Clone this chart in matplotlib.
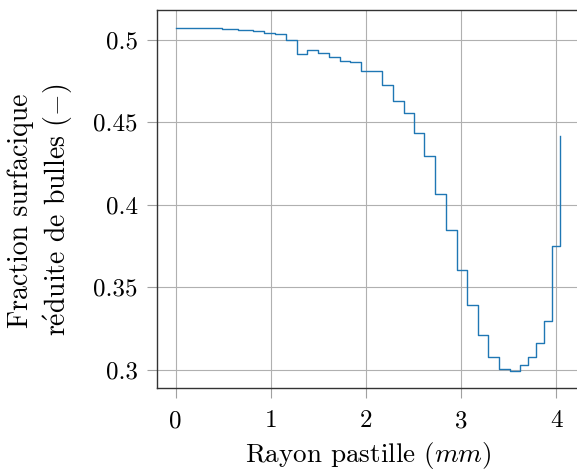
import numpy as np
import matplotlib
matplotlib.use('Agg')
import matplotlib.pyplot as plt

# step edges (mm) and levels (last value only closes the final step)
rayon = [0.0, 0.168, 0.335, 0.491, 0.659, 0.817, 0.933, 1.045, 1.158, 1.272,
         1.385, 1.495, 1.613, 1.722, 1.835, 1.945, 2.056, 2.172, 2.284, 2.396,
         2.505, 2.614, 2.726, 2.840, 2.954, 3.063, 3.175, 3.284, 3.400, 3.512,
         3.621, 3.701, 3.789, 3.869, 3.954, 4.045]
fraction = [0.5073, 0.5072, 0.5069, 0.5064, 0.5056, 0.5052, 0.5042, 0.5035, 0.5000, 0.4914,
            0.4939, 0.4921, 0.4896, 0.4868, 0.4866, 0.4812, 0.4808, 0.4725, 0.4626, 0.4555,
            0.4437, 0.4298, 0.4066, 0.3847, 0.3606, 0.3394, 0.3214, 0.3081, 0.3004, 0.2995,
            0.3028, 0.3080, 0.3161, 0.3297, 0.3748, 0.4419]

xticks = [0, 1, 2, 3, 4]
xticklabels = ['0', '1', '2', '3', '4']
yticks = [0.3, 0.35, 0.4, 0.45, 0.5]
yticklabels = ['0.3', '0.35', '0.4', '0.45', '0.5']

plt.rcParams['font.family'] = 'serif'
plt.rcParams['font.serif'] = ['cmr10']
plt.rcParams['mathtext.fontset'] = 'cm'
plt.rcParams['axes.unicode_minus'] = False

fig = plt.figure(figsize=(5.77, 4.73), dpi=100)
ax = fig.add_axes([0.2726, 0.1803, 0.7308, 0.7979])

ax.step(rayon, fraction, where='post', color='#1f77b4', lw=1.0)

ax.set_xlim(-0.194, 4.24)
ax.set_ylim(0.2892, 0.5178)
ax.set_xticks(xticks)
ax.set_xticklabels(xticklabels)
ax.set_yticks(yticks)
ax.set_yticklabels(yticklabels)

ax.grid(True, color='#b0b0b0', lw=0.8)
ax.set_axisbelow(True)
ax.tick_params(length=7, width=0.8, color='#a0a0a0', labelsize=18)
ax.tick_params(axis='x', pad=9)
ax.tick_params(axis='y', pad=7)
for s in ax.spines.values():
    s.set_color('#333333')
    s.set_linewidth(1.0)

ax.set_xlabel(r'Rayon pastille ($mm$)', fontsize=19.5, labelpad=6)
ax.set_ylabel('Fraction surfacique\n' + r'r$\acute{\rm e}$duite de bulles ($-$)',
              fontsize=20, labelpad=13, multialignment='center', y=0.47,
              linespacing=1.3)

fig.savefig('out.png', dpi=100)
